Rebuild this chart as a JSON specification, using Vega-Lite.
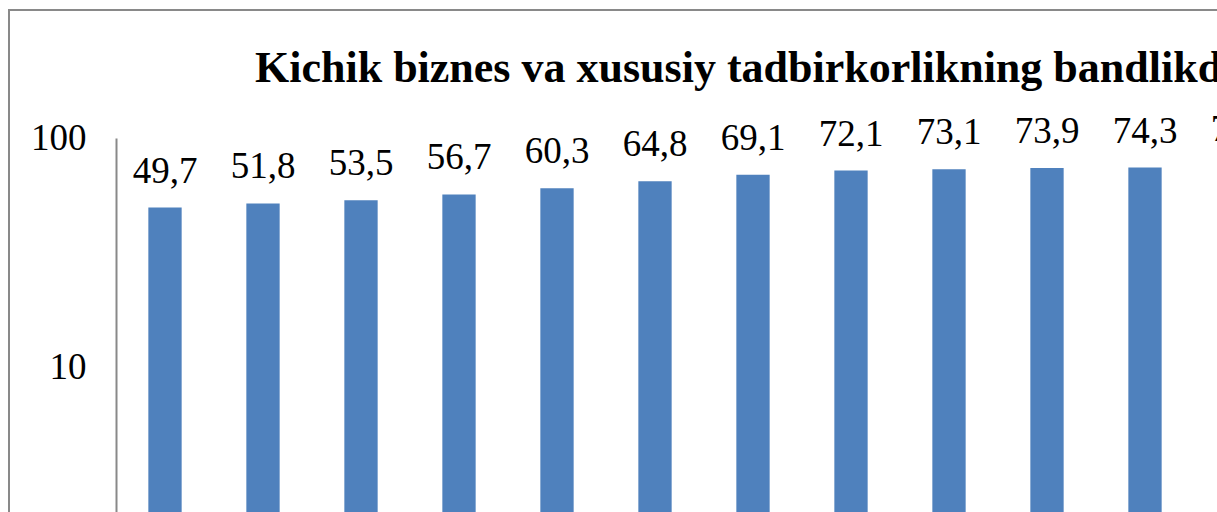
{
  "$schema": "https://vega.github.io/schema/vega-lite/v6.json",
  "autosize": {"type": "none"},
  "width": 1213,
  "height": 507,
  "padding": {"left": 9, "top": 10, "right": -5, "bottom": -5},
  "background": "white",
  "title": {
    "text": "Kichik biznes va xususiy tadbirkorlikning bandlikdagi ulushi",
    "anchor": "start",
    "orient": "top",
    "offset": 0,
    "dx": 246,
    "dy": 116,
    "baseline": "alphabetic",
    "font": "Liberation Serif",
    "fontSize": 44,
    "fontWeight": "bold",
    "color": "black"
  },
  "config": {
    "view": {"stroke": "#898989", "strokeWidth": 2},
    "locale": {"number": {"decimal": ",", "thousands": " ", "grouping": [3], "currency": ["", ""]}}
  },
  "data": {
    "values": [
      {"year": "2000", "value": 49.7},
      {"year": "2001", "value": 51.8},
      {"year": "2002", "value": 53.5},
      {"year": "2003", "value": 56.7},
      {"year": "2004", "value": 60.3},
      {"year": "2005", "value": 64.8},
      {"year": "2006", "value": 69.1},
      {"year": "2007", "value": 72.1},
      {"year": "2008", "value": 73.1},
      {"year": "2009", "value": 73.9},
      {"year": "2010", "value": 74.3},
      {"year": "2011", "value": 75.1}
    ]
  },
  "encoding": {
    "x": {
      "field": "year",
      "type": "ordinal",
      "sort": null,
      "scale": {"type": "band", "range": [107, 1283], "paddingInner": 0, "paddingOuter": 0},
      "axis": null
    },
    "y": {
      "field": "value",
      "type": "quantitative",
      "scale": {"type": "log", "domain": [1, 100], "range": [586, 128], "nice": false},
      "axis": {
        "title": null,
        "values": [10, 100],
        "format": "d",
        "offset": -107,
        "ticks": false,
        "grid": false,
        "domainColor": "#898989",
        "domainWidth": 2,
        "labelFont": "Liberation Serif",
        "labelFontSize": 37,
        "labelColor": "black",
        "labelPadding": 30
      }
    }
  },
  "layer": [
    {
      "mark": {"type": "bar", "color": "#4F81BD", "width": {"band": 0.34}},
      "encoding": {"y2": {"datum": 1}}
    },
    {
      "mark": {"type": "text", "font": "Liberation Serif", "fontSize": 37, "color": "black", "baseline": "alphabetic", "dy": -25},
      "encoding": {"text": {"field": "value", "type": "quantitative", "format": ".1f"}}
    }
  ]
}
